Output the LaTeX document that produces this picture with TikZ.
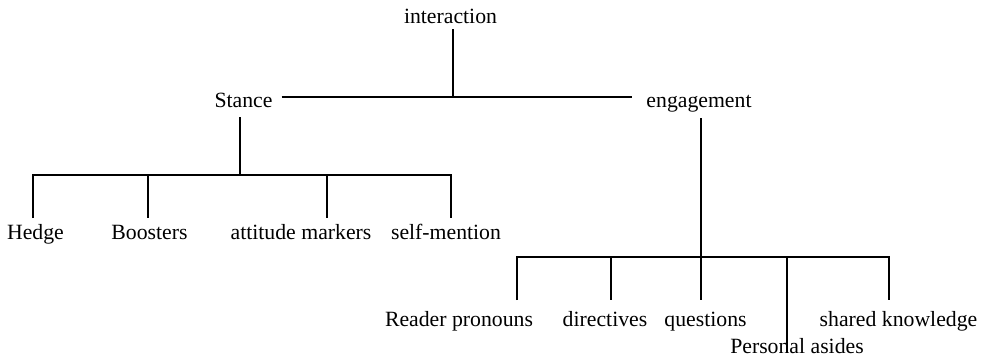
\documentclass[tikz,border=0pt]{standalone}
\usepackage{fontspec}
\setmainfont{Liberation Serif}
\usepackage{tikz}

\begin{document}
\begin{tikzpicture}[x=1pt, y=-1pt, every node/.style={anchor=base, inner sep=0pt, font=\fontsize{21.75}{26}\selectfont}, branch/.style={line width=2.6pt}]
  \useasboundingbox (0,0) rectangle (982,362);
  \node (interaction) at (450.5,23) {interaction};
  \node (stance) at (243.5,107) {Stance};
  \node (engagement) at (699,107) {engagement};
  \node (hedge) at (35.5,239) {Hedge};
  \node (boosters) at (149.5,239) {Boosters};
  \node (attitude) at (301,239) {attitude markers};
  \node (self) at (446,239) {self-mention};
  \node (reader) at (459,326) {Reader pronouns};
  \node (directives) at (605,326) {directives};
  \node (questions) at (705.5,326) {questions};
  \node (shared) at (898.5,326) {shared knowledge};
  \node (asides) at (797,353) {Personal asides};
  \coordinate (top) at (453,97);
  \coordinate (s1) at (33,175);
  \coordinate (s2) at (148,175);
  \coordinate (s3) at (240,175);
  \coordinate (s4) at (327,175);
  \coordinate (s5) at (451,175);
  \coordinate (e1) at (517,257);
  \coordinate (e2) at (611,257);
  \coordinate (e3) at (701,257);
  \coordinate (e4) at (787,257);
  \coordinate (e5) at (889,257);
  \draw[branch] ([yshift=-6pt]interaction.base -| top) -- (top);
  \draw[branch] ([xshift=9pt]stance.base east |- top) -- ([xshift=-14pt]engagement.base west |- top);
  \draw[branch] ([yshift=-10pt]stance.base -| s3) -- (s3);
  \draw[branch] ([yshift=21pt]hedge.base -| s1) -- (s1) -- (s5) -- ([yshift=21pt]self.base -| s5);
  \draw[branch] (s2) -- ([yshift=21pt]boosters.base -| s2);
  \draw[branch] (s4) -- ([yshift=21pt]attitude.base -| s4);
  \draw[branch] ([yshift=-11pt]engagement.base -| e3) -- (e3);
  \draw[branch] ([yshift=26pt]reader.base -| e1) -- (e1) -- (e5) -- ([yshift=26pt]shared.base -| e5);
  \draw[branch] (e2) -- ([yshift=26pt]directives.base -| e2);
  \draw[branch] (e3) -- ([yshift=26pt]questions.base -| e3);
  \draw[branch] (e4) -- (asides.base -| e4);
\end{tikzpicture}
\end{document}
